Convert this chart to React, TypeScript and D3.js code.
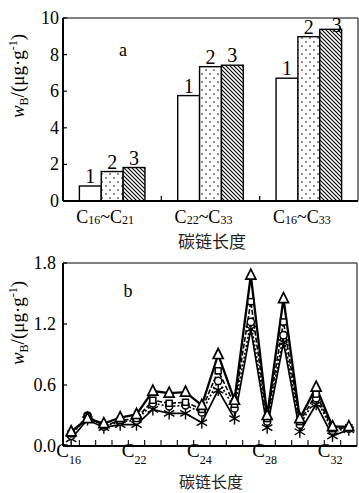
import React from 'react';
import * as d3 from 'd3';

// panel a
const groups = ['C16~C21', 'C22~C33', 'C16~C33'];
const groupSub = [['16', '21'], ['22', '33'], ['16', '33']];
const samples = ['1', '2', '3'];
const sample1 = [0.82, 5.76, 6.71];
const sample2 = [1.61, 7.34, 8.98];
const sample3 = [1.83, 7.42, 9.38];
const ticksA = [0, 2, 4, 6, 8, 10];

// panel b
const carbons = ['C16', 'C17', 'C18', 'C19', 'C20', 'C21', 'C22', 'C23', 'C24', 'C25', 'C26', 'C27', 'C28', 'C29', 'C30', 'C31', 'C32', 'C33'];
const triSeries = [0.14, 0.27, 0.22, 0.28, 0.31, 0.54, 0.52, 0.53, 0.40, 0.90, 0.45, 1.68, 0.30, 1.45, 0.27, 0.58, 0.19, 0.19];
const sqSeries = [0.12, 0.29, 0.20, 0.25, 0.27, 0.45, 0.42, 0.43, 0.36, 0.74, 0.41, 1.42, 0.27, 1.22, 0.24, 0.51, 0.17, 0.18];
const cirSeries = [0.10, 0.30, 0.19, 0.24, 0.25, 0.42, 0.39, 0.40, 0.33, 0.64, 0.37, 1.22, 0.24, 1.09, 0.21, 0.47, 0.15, 0.17];
const astSeries = [0.07, 0.26, 0.18, 0.21, 0.21, 0.36, 0.32, 0.32, 0.23, 0.55, 0.27, 1.15, 0.18, 1.02, 0.14, 0.41, 0.10, 0.16];
const ticksB = [0, 0.6, 1.2, 1.8];
const labelsB = [
  { at: 0, c: '16' },
  { at: 4, c: '22' },
  { at: 8, c: '24' },
  { at: 12, c: '28' },
  { at: 16, c: '32' },
];

const serif = 'Liberation Serif, Times New Roman, Times, DejaVu Serif, serif';
const cjk = 'Noto Sans CJK SC, sans-serif';

const YLabel = ({ x, y }: { x: number; y: number }) => (
  <text transform={`translate(${x},${y}) rotate(-90)`} textAnchor="middle" style={{ fontFamily: serif, fontSize: 19 }}>
    <tspan style={{ fontStyle: 'italic' }}>w</tspan>
    <tspan style={{ fontSize: 12 }} dy={4}>B</tspan>
    <tspan dy={-4}>/(μg·g</tspan>
    <tspan style={{ fontSize: 12 }} dy={-7}>-1</tspan>
    <tspan dy={7}>)</tspan>
  </text>
);

const PanelA = () => {
  const left = 63, right = 358, top = 18, bottom = 201;
  const x = d3.scaleBand().domain(groups).range([left, right]);
  const xs = d3.scaleBand().domain(samples).range([0, x.bandwidth()]).paddingOuter(0.75).paddingInner(0);
  const y = d3.scaleLinear().domain([0, 10]).range([bottom, top]);
  const series = [sample1, sample2, sample3];
  const fills = ['#fff', 'url(#dots)', 'url(#hatch)'];
  return (
    <g>
      <line x1={left} x2={right} y1={top} y2={top} stroke="#555" strokeWidth={1.5} />
      <line x1={right} x2={right} y1={top} y2={bottom} stroke="#555" strokeWidth={1.5} />
      {series.map((vals, si) =>
        groups.map((g, gi) => {
          const bx = (x(g) as number) + (xs(samples[si]) as number);
          const by = y(vals[gi]);
          const crowded = by - 17 < top;
          return (
            <g key={`${si}-${gi}`}>
              <rect x={bx} y={by} width={xs.bandwidth()} height={bottom - by} fill={fills[si]} stroke="#000" strokeWidth={1.4} />
              <text x={bx + xs.bandwidth() / 2 + (crowded ? 6 : 0)} y={crowded ? by + 3 : by - 3} textAnchor="middle" style={{ fontFamily: serif, fontSize: 20 }}>
                {samples[si]}
              </text>
            </g>
          );
        })
      )}
      <line x1={left} x2={left} y1={top} y2={bottom} stroke="#000" strokeWidth={2} />
      <line x1={left} x2={right} y1={bottom} y2={bottom} stroke="#000" strokeWidth={2.2} />
      {ticksA.map((t) => (
        <g key={t}>
          <line x1={left} x2={left + 4} y1={y(t)} y2={y(t)} stroke="#000" strokeWidth={1.2} />
          <text x={left - 4} y={y(t) + 6} textAnchor="end" style={{ fontFamily: serif, fontSize: 18 }}>{t}</text>
        </g>
      ))}
      {groups.slice(1).map((g) => (
        <line key={g} x1={x(g)} x2={x(g)} y1={bottom} y2={bottom - 5} stroke="#000" strokeWidth={1.2} />
      ))}
      {groups.map((g, gi) => (
        <text key={g} x={(x(g) as number) + x.bandwidth() / 2 - 7} y={223} textAnchor="middle" style={{ fontFamily: serif, fontSize: 18 }}>
          <tspan>C</tspan>
          <tspan style={{ fontSize: 12 }} dy={1}>{groupSub[gi][0]}</tspan>
          <tspan dy={-1}>~C</tspan>
          <tspan style={{ fontSize: 12 }} dy={1}>{groupSub[gi][1]}</tspan>
        </text>
      ))}
      <text x={123} y={56} textAnchor="middle" style={{ fontFamily: serif, fontSize: 18 }}>a</text>
      <text x={212} y={248} textAnchor="middle" style={{ fontFamily: cjk, fontSize: 17 }} fill="#222">碳链长度</text>
      <YLabel x={24} y={76} />
    </g>
  );
};

const Marker = ({ kind, cx, cy }: { kind: string; cx: number; cy: number }) => {
  if (kind === 'tri') {
    const p = d3.path();
    p.moveTo(cx, cy - 6);
    p.lineTo(cx + 5, cy + 4);
    p.lineTo(cx - 5, cy + 4);
    p.closePath();
    return <path d={p.toString()} fill="#fff" stroke="#000" strokeWidth={1.7} />;
  }
  if (kind === 'sq') return <rect x={cx - 3} y={cy - 3} width={6} height={6} fill="#fff" stroke="#000" strokeWidth={1.5} />;
  if (kind === 'cir') return <circle cx={cx} cy={cy} r={3.6} fill="#fff" stroke="#000" strokeWidth={1.5} />;
  const r = 6;
  const arms = [90, 30, -30].map((a) => (a * Math.PI) / 180);
  return (
    <g stroke="#000" strokeWidth={1.4}>
      {arms.map((a, i) => (
        <line key={i} x1={cx - r * Math.cos(a)} y1={cy - r * Math.sin(a)} x2={cx + r * Math.cos(a)} y2={cy + r * Math.sin(a)} />
      ))}
    </g>
  );
};

const PanelB = () => {
  const left = 63, right = 357, top = 263, bottom = 446;
  const x = d3.scaleLinear().domain([-0.5, carbons.length - 0.5]).range([left, right]);
  const y = d3.scaleLinear().domain([0, 1.8]).range([bottom, top]);
  const line = d3
    .line<number>()
    .x((_, i) => x(i))
    .y((d) => y(d));
  const series = [
    { vals: astSeries, kind: 'ast', dash: '', w: 1.7 },
    { vals: cirSeries, kind: 'cir', dash: '2,2', w: 1.6 },
    { vals: sqSeries, kind: 'sq', dash: '5,2', w: 1.6 },
    { vals: triSeries, kind: 'tri', dash: '', w: 2.3 },
  ];
  const halfTicks = d3.range(carbons.length - 1).map((i) => i + 0.5);
  return (
    <g>
      <line x1={left} x2={right} y1={top} y2={top} stroke="#555" strokeWidth={1.5} />
      <line x1={right} x2={right} y1={top} y2={bottom} stroke="#555" strokeWidth={1.5} />
      {series.map((s) => (
        <path key={s.kind} d={line(s.vals) as string} fill="none" stroke="#000" strokeWidth={s.w} strokeDasharray={s.dash} />
      ))}
      {series.map((s) => (
        <g key={s.kind}>
          {s.vals.map((v, i) => (
            <Marker key={i} kind={s.kind} cx={x(i)} cy={y(v)} />
          ))}
        </g>
      ))}
      <line x1={left} x2={left} y1={top} y2={bottom} stroke="#000" strokeWidth={2} />
      <line x1={left} x2={right} y1={bottom} y2={bottom} stroke="#000" strokeWidth={2.2} />
      {ticksB.map((t) => (
        <g key={t}>
          <line x1={left} x2={left + 4} y1={y(t)} y2={y(t)} stroke="#000" strokeWidth={1.2} />
          <text x={left - 7} y={y(t) + 6} textAnchor="end" style={{ fontFamily: serif, fontSize: 18 }}>{t.toFixed(1)}</text>
        </g>
      ))}
      {halfTicks.map((t) => (
        <line key={t} x1={x(t)} x2={x(t)} y1={bottom} y2={bottom - 6} stroke="#000" strokeWidth={1.1} />
      ))}
      {labelsB.map((l) => (
        <text key={l.c} x={x(l.at - 0.15)} y={457} textAnchor="middle" style={{ fontFamily: serif, fontSize: 19 }}>
          <tspan>C</tspan>
          <tspan style={{ fontSize: 12 }} dy={7}>{l.c}</tspan>
        </text>
      ))}
      <text x={128} y={297} textAnchor="middle" style={{ fontFamily: serif, fontSize: 18 }}>b</text>
      <text x={211} y={488} textAnchor="middle" style={{ fontFamily: cjk, fontSize: 16 }} fill="#222">碳链长度</text>
      <YLabel x={24} y={323} />
    </g>
  );
};

export default function App() {
  return (
    <svg width={359} height={493} style={{ position: 'absolute', left: 0, top: 0, background: '#fff', fontFamily: serif }}>
      <defs>
        <pattern id="dots" patternUnits="userSpaceOnUse" width={8} height={8}>
          <rect width={8} height={8} fill="#fff" />
          <circle cx={2} cy={2} r={0.8} fill="#000" />
          <circle cx={6} cy={6} r={0.8} fill="#000" />
        </pattern>
        <pattern id="hatch" patternUnits="userSpaceOnUse" width={4} height={4}>
          <rect width={4} height={4} fill="#fff" />
          <path d="M-1,-1 L5,5 M-1,3 L1,5 M3,-1 L5,1" stroke="#000" strokeWidth={1.1} />
        </pattern>
      </defs>
      <rect width={359} height={493} fill="#fff" />
      <PanelA />
      <PanelB />
    </svg>
  );
}
